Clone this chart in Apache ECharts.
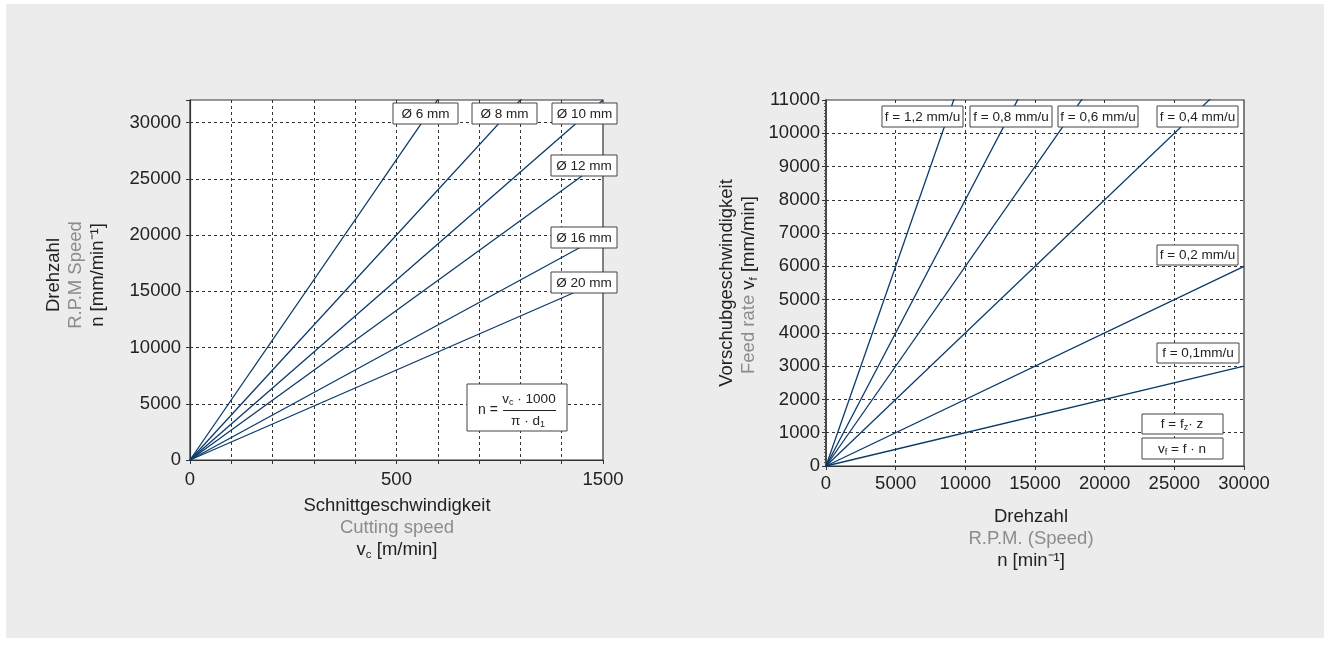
<!DOCTYPE html>
<html>
<head>
<meta charset="utf-8">
<script src="https://cdn.jsdelivr.net/npm/echarts@6/dist/echarts.min.js"></script>
<style>
  html, body { margin: 0; padding: 0; background: #ffffff; }
  #chart { width: 1328px; height: 652px; }
</style>
</head>
<body>
<div id="chart"></div>
<script>
// ---------- Data ----------
// Left chart: spindle speed n vs cutting speed vc, one line per tool diameter
var leftDiameters = ['Ø 6 mm', 'Ø 8 mm', 'Ø 10 mm', 'Ø 12 mm', 'Ø 16 mm', 'Ø 20 mm'];
var leftEndVc = [1500, 1500, 1500, 1500, 1500, 1500];
var leftEndN = [53400, 40000, 32000, 26600, 20000, 16000];
var leftXTickValues = [0, 750, 1500];
var leftXTickLabels = ['0', '500', '1500'];
var leftYTicks = [0, 5000, 10000, 15000, 20000, 25000, 30000];

// Right chart: feed rate vf vs spindle speed n, one line per feed per rev
var rightFeeds = ['f = 1,2 mm/u', 'f = 0,8 mm/u', 'f = 0,6 mm/u', 'f = 0,4 mm/u', 'f = 0,2 mm/u', 'f = 0,1mm/u'];
var rightEndN = [30000, 30000, 30000, 30000, 30000, 30000];
var rightEndVf = [36000, 24000, 18000, 12000, 6000, 3000];

// ---------- Styles ----------
var FONT = '"Liberation Sans", Arial, Helvetica, sans-serif';
var LINE_COLOR = '#0b3a6a';
var TXT = '#222222';
var GRAY = '#8c8c8c';
var GRID_LINE = { show: true, showMinLine: false, showMaxLine: false,
  lineStyle: { color: '#333', width: 1, type: [3, 3] } };
var NAME_SIZE = 18.5;
var TICK_SIZE = 18.5;

var chart = echarts.init(document.getElementById('chart'), null, { renderer: 'canvas' });

function lineSeries(names, xs, ys, xi, yi) {
  return names.map(function (nm, i) {
    return {
      type: 'line', name: nm, xAxisIndex: xi, yAxisIndex: yi,
      data: [[0, 0], [xs[i], ys[i]]],
      showSymbol: false, symbol: 'none', clip: true, silent: true,
      lineStyle: { color: LINE_COLOR, width: 1.3 },
      z: 3
    };
  });
}

function box(x, y, w, h, text) {
  return {
    type: 'group', z: 100,
    children: [
      { type: 'rect', shape: { x: x, y: y, width: w, height: h },
        style: { fill: '#ffffff', stroke: '#444', lineWidth: 1 }, z: 100 },
      { type: 'text', x: x + w / 2, y: y + h / 2 + 0.5, z: 101,
        style: { text: text, fill: TXT, font: '13.5px ' + FONT, align: 'center', verticalAlign: 'middle' } }
    ]
  };
}

var subRich = {
  m: { fontSize: 13.5, fontFamily: FONT, fill: TXT, lineHeight: 16 },
  s: { fontSize: 9, fontFamily: FONT, fill: TXT, lineHeight: 10, verticalAlign: 'bottom' }
};
var subRichBig = {
  m: { fontSize: NAME_SIZE, fontFamily: FONT, fill: TXT, lineHeight: 21 },
  g: { fontSize: NAME_SIZE, fontFamily: FONT, fill: GRAY, lineHeight: 21 },
  s: { fontSize: 11.5, fontFamily: FONT, fill: TXT, lineHeight: 12, verticalAlign: 'bottom' }
};

function richText(x, y, text, rich, rot, align) {
  return { type: 'text', x: x, y: y, rotation: rot || 0, z: 101,
    style: { text: text, rich: rich, fill: TXT, align: align || 'center', verticalAlign: 'middle' } };
}
function plainText(x, y, text, color, size, rot) {
  return { type: 'text', x: x, y: y, rotation: rot || 0, z: 101,
    style: { text: text, fill: color, font: size + 'px ' + FONT, align: 'center', verticalAlign: 'middle' } };
}

var labelBoxes = [
  // left chart diameter labels
  box(393, 103, 65, 21, leftDiameters[0]),
  box(472, 103, 65, 21, leftDiameters[1]),
  box(552, 103, 65, 21, leftDiameters[2]),
  box(551, 155, 66, 21, leftDiameters[3]),
  box(551, 227, 66, 21, leftDiameters[4]),
  box(551, 272, 66, 21, leftDiameters[5]),
  // right chart feed labels
  box(882, 106, 81, 21, rightFeeds[0]),
  box(970, 106, 82, 21, rightFeeds[1]),
  box(1058, 106, 80, 21, rightFeeds[2]),
  box(1157, 106, 81, 21, rightFeeds[3]),
  box(1157, 245, 81, 20, rightFeeds[4]),
  box(1157, 343, 82, 20, rightFeeds[5])
];

var formulaLeft = {
  type: 'group', z: 100,
  children: [
    { type: 'rect', shape: { x: 467, y: 384, width: 100, height: 47 },
      style: { fill: '#fff', stroke: '#444', lineWidth: 1 }, z: 100 },
    plainText(488, 410, 'n =', TXT, 14),
    richText(529, 399, '{m|v}{s|c}{m| · 1000}', subRich),
    { type: 'line', shape: { x1: 503, y1: 410.5, x2: 556, y2: 410.5 },
      style: { stroke: '#222', lineWidth: 1 }, z: 101 },
    richText(528, 421, '{m|π · d}{s|1}', subRich)
  ]
};

var formulaRight = {
  type: 'group', z: 100,
  children: [
    { type: 'rect', shape: { x: 1142, y: 414, width: 81, height: 20 },
      style: { fill: '#fff', stroke: '#444', lineWidth: 1 }, z: 100 },
    richText(1182, 424, '{m|f = f}{s|z}{m|· z}', subRich),
    { type: 'rect', shape: { x: 1142, y: 438, width: 81, height: 21 },
      style: { fill: '#fff', stroke: '#444', lineWidth: 1 }, z: 100 },
    richText(1182, 449, '{m|v}{s|f}{m| = f · n}', subRich)
  ]
};

var axisNames = [
  // left y
  plainText(54, 275, 'Drehzahl', TXT, NAME_SIZE, Math.PI / 2),
  plainText(76, 275, 'R.P.M Speed', GRAY, NAME_SIZE, Math.PI / 2),
  plainText(98, 275, 'n [mm/min⁻¹]', TXT, NAME_SIZE, Math.PI / 2),
  // left x
  plainText(397, 506, 'Schnittgeschwindigkeit', TXT, NAME_SIZE),
  plainText(397, 528, 'Cutting speed', GRAY, NAME_SIZE),
  richText(397, 550, '{m|v}{s|c}{m| [m/min]}', subRichBig),
  // right y
  plainText(727, 283, 'Vorschubgeschwindigkeit', TXT, NAME_SIZE, Math.PI / 2),
  richText(749, 285, '{g|Feed rate }{m|v}{s|f}{m| [mm/min]}', subRichBig, Math.PI / 2),
  // right x
  plainText(1031, 517, 'Drehzahl', TXT, NAME_SIZE),
  plainText(1031, 539, 'R.P.M. (Speed)', GRAY, NAME_SIZE),
  plainText(1031, 561, 'n [min⁻¹]', TXT, NAME_SIZE)
];

var bgRect = { type: 'rect', z: -10, silent: true,
  shape: { x: 6, y: 4, width: 1318, height: 634 },
  style: { fill: '#ececec' } };

var axisLabelStyle = { color: TXT, fontSize: TICK_SIZE, fontFamily: FONT };

var option = {
  animation: false,
  backgroundColor: '#ffffff',
  grid: [
    { left: 190, top: 100, width: 413, height: 360, show: true, backgroundColor: '#ffffff',
      borderColor: '#333', borderWidth: 1.2 },
    { left: 826, top: 100, width: 418, height: 366, show: true, backgroundColor: '#ffffff',
      borderColor: '#333', borderWidth: 1.2 }
  ],
  xAxis: [
    { type: 'value', gridIndex: 0, min: 0, max: 1500, interval: 150, z: 2,
      axisLine: { show: true, lineStyle: { color: '#333', width: 1.2 } },
      axisTick: { show: true, length: 4, lineStyle: { color: '#333' } },
      splitLine: GRID_LINE,
      axisLabel: Object.assign({}, axisLabelStyle, { margin: 10, showMinLabel: true, showMaxLabel: true,
        formatter: function (v) {
          var i = leftXTickValues.indexOf(Math.round(v));
          return i >= 0 ? leftXTickLabels[i] : '';
        } }) },
    { type: 'value', gridIndex: 1, min: 0, max: 30000, interval: 5000, z: 2,
      axisLine: { show: true, lineStyle: { color: '#333', width: 1.2 } },
      axisTick: { show: true, length: 4, lineStyle: { color: '#333' } },
      splitLine: GRID_LINE,
      axisLabel: Object.assign({}, axisLabelStyle, { margin: 8,
        formatter: function (v) { return String(v); } }) }
  ],
  yAxis: [
    { type: 'value', gridIndex: 0, min: 0, max: 32000, interval: 5000, z: 2,
      axisLine: { show: true, lineStyle: { color: '#333', width: 1.2 } },
      axisTick: { show: true, length: 4, lineStyle: { color: '#333' } },
      splitLine: GRID_LINE,
      axisLabel: Object.assign({}, axisLabelStyle, { margin: 9,
        formatter: function (v) { return leftYTicks.indexOf(Math.round(v)) >= 0 ? String(v) : ''; } }) },
    { type: 'value', gridIndex: 1, min: 0, max: 11000, interval: 1000, z: 2,
      axisLine: { show: true, lineStyle: { color: '#333', width: 1.5 } },
      axisTick: { show: true, length: 4, lineStyle: { color: '#333' } },
      minorTick: { show: true, splitNumber: 10, length: 2, lineStyle: { color: '#555' } },
      splitLine: GRID_LINE,
      axisLabel: Object.assign({}, axisLabelStyle, { margin: 6,
        formatter: function (v) { return String(v); } }) }
  ],
  graphic: [bgRect].concat(labelBoxes, [formulaLeft, formulaRight], axisNames),
  series: lineSeries(leftDiameters, leftEndVc, leftEndN, 0, 0)
    .concat(lineSeries(rightFeeds, rightEndN, rightEndVf, 1, 1))
};

chart.setOption(option);
</script>
</body>
</html>
